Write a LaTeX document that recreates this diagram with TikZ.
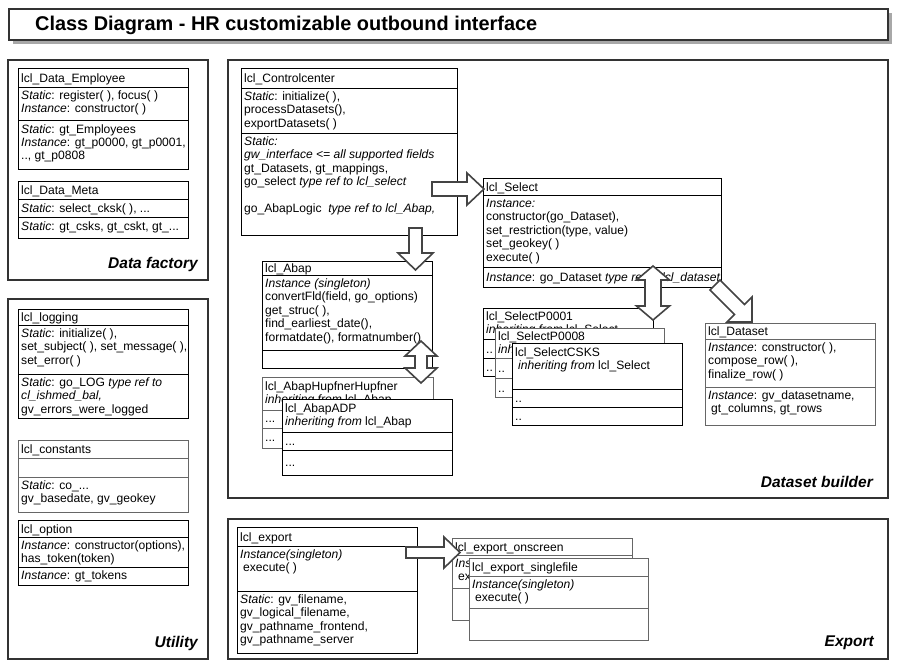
\documentclass[tikz,border=0pt]{standalone}
\usepackage{fontspec}
\setmainfont{Liberation Sans}
\definecolor{panelc}{HTML}{333333}
\definecolor{arrowc}{HTML}{444444}
\definecolor{greyb}{HTML}{666666}
\definecolor{shadowc}{HTML}{A8A8A8}
\newcommand\cf{\fontsize{12.1}{13.4}\selectfont}
\tikzset{
  panel/.style={draw=panelc, line width=2pt},
  cls/.style={draw=black, line width=0.9pt, fill=white},
  clsg/.style={draw=greyb, line width=1pt, fill=white},
  dv/.style={draw=black, line width=0.9pt},
  dvg/.style={draw=greyb, line width=1pt},
  txt/.style={anchor=north west, inner sep=0pt, align=left, font=\cf},
  lab/.style={anchor=base east, inner sep=0pt, font=\fontsize{15.5}{16}\selectfont\bfseries\itshape},
  barrow/.style={draw=arrowc, line width=1.6pt, fill=white, line join=miter},
}
% single block arrow: x y length rotation headlength headhalf shafthalf
\newcommand\sarrow[7]{%
  \draw[barrow, shift={(#1,#2)}, rotate=#4]
    (0,-#7) -- ({#3-#5},-#7) -- ({#3-#5},-#6) -- (#3,0) -- ({#3-#5},#6) -- ({#3-#5},#7) -- (0,#7) -- cycle;}
% double block arrow
\newcommand\darrow[7]{%
  \draw[barrow, shift={(#1,#2)}, rotate=#4]
    (0,0) -- (#5,-#6) -- (#5,-#7) -- ({#3-#5},-#7) -- ({#3-#5},-#6) -- (#3,0)
    -- ({#3-#5},#6) -- ({#3-#5},#7) -- (#5,#7) -- (#5,#6) -- cycle;}
\begin{document}
\begin{tikzpicture}[x=1pt,y=-1pt]
\useasboundingbox (0,0) rectangle (901,669);
\fill[white] (0,0) rectangle (901,669);

% ---------- title ----------
\fill[shadowc] (13,13) rectangle (892,44);
\draw[panel, fill=white] (9,9) rectangle (888,40);
\node[anchor=base west, inner sep=0pt, font=\fontsize{19.9}{21}\selectfont\bfseries] (title) at (35,31) {Class Diagram - HR customizable outbound interface};

% ---------- panels ----------
\draw[panel] (8,60) rectangle (208,280);
\node[lab] (lblDF) at (198,268.5) {Data factory};
\draw[panel] (228,60) rectangle (888,498);
\node[lab] (lblDB) at (873,487.5) {Dataset builder};
\draw[panel] (8,299) rectangle (208,659);
\node[lab] (lblUT) at (198,647.5) {Utility};
\draw[panel] (228,519) rectangle (888,659);
\node[lab] (lblEX) at (874,646.5) {Export};

% ---------- Data factory ----------
\draw[cls] (18.5,68.5) rectangle (188.5,169.5);
\draw[dv] (18.5,87) -- (188.5,87);
\draw[dv] (18.5,120.5) -- (188.5,120.5);
\node[txt] (empT) at (21,72.5) {\strut lcl\_Data\_Employee};
\node[txt] (empA) at (21,90) {\strut\textit{Static}: register( ), focus( )\\\textit{Instance}: constructor( )};
\node[txt] (empB) at (21,123.5) {\strut\textit{Static}: gt\_Employees\\\textit{Instance}: gt\_p0000, gt\_p0001,\\.., gt\_p0808};

\draw[cls] (18.5,181) rectangle (188.5,238);
\draw[dv] (18.5,199) -- (188.5,199);
\draw[dv] (18.5,217) -- (188.5,217);
\node[txt] (metaT) at (21,185) {\strut lcl\_Data\_Meta};
\node[txt] (metaA) at (21,203) {\strut\textit{Static}: select\_cksk( ), ...};
\node[txt] (metaB) at (21,221) {\strut\textit{Static}: gt\_csks, gt\_cskt, gt\_...};

% ---------- Dataset builder ----------
\draw[cls] (241.5,68) rectangle (457.5,235);
\draw[dv] (241.5,88) -- (457.5,88);
\draw[dv] (241.5,133) -- (457.5,133);
\node[txt] (ccT) at (244,73) {\strut lcl\_Controlcenter};
\node[txt] (ccA) at (244,91) {\strut\textit{Static}: initialize( ),\\processDatasets(),\\exportDatasets( )};
\node[txt] (ccB) at (244,136) {\strut\textit{Static:}\\\textit{gw\_interface {<}= all supported fields}\\gt\_Datasets, gt\_mappings,\\go\_select \textit{type ref to lcl\_select}\\\strut\\go\_AbapLogic~~\textit{type ref to lcl\_Abap,}};

\draw[cls] (483,178) rectangle (721,287);
\draw[dv] (483,195) -- (721,195);
\draw[dv] (483,267) -- (721,267);
\node[txt] (selT) at (486,181.5) {\strut lcl\_Select};
\node[txt] (selA) at (486,198) {\strut\textit{Instance:}\\constructor(go\_Dataset),\\set\_restriction(type, value)\\set\_geokey( )\\execute( )};
\node[txt] (selB) at (486,271.5) {\strut\textit{Instance}: go\_Dataset \textit{type ref to lcl\_dataset,}};

\draw[cls] (262,261) rectangle (432,368);
\draw[dv] (262,275) -- (432,275);
\draw[dv] (262,350) -- (432,350);
\node[txt] (abT) at (265,263) {\strut lcl\_Abap};
\node[txt] (abA) at (265,278) {\strut\textit{Instance (singleton)}\\convertFld(field, go\_options)\\get\_struc( ),\\find\_earliest\_date(),\\formatdate(), formatnumber()};

\draw[clsg] (262,377) rectangle (433,448);
\draw[dvg] (262,410) -- (433,410);
\draw[dvg] (262,428) -- (433,428);
\node[txt] (huT) at (265,380.5) {\strut lcl\_AbapHupfnerHupfner\\\textit{inheriting from} lcl\_Abap};
\node[txt] (huA) at (265,413) {\strut ...};
\node[txt] (huB) at (265,432) {\strut ...};

\draw[cls] (282,399) rectangle (452,475);
\draw[dv] (282,432) -- (452,432);
\draw[dv] (282,450) -- (452,450);
\node[txt] (adT) at (285,403) {\strut lcl\_AbapADP\\\textit{inheriting from} lcl\_Abap};
\node[txt] (adA) at (285,436) {\strut ...};
\node[txt] (adB) at (285,457) {\strut ...};

\draw[cls] (483,308) rectangle (653,376);
\draw[dv] (483,339) -- (653,339);
\draw[dv] (483,358) -- (653,358);
\node[txt] (p1T) at (486,311) {\strut lcl\_SelectP0001\\\textit{inheriting from} lcl\_Select};
\node[txt] (p1A) at (486,343.5) {\strut ..};
\node[txt] (p1B) at (486,362) {\strut ..};

\draw[clsg] (495,328) rectangle (664,397);
\draw[dvg] (495,358) -- (664,358);
\draw[dvg] (495,378) -- (664,378);
\node[txt] (p8T) at (498,331) {\strut lcl\_SelectP0008\\\textit{inheriting from} lcl\_Select};
\node[txt] (p8A) at (498,363) {\strut ..};
\node[txt] (p8B) at (498,382.5) {\strut ..};

\draw[cls] (512,343) rectangle (682,425);
\draw[dv] (512,389) -- (682,389);
\draw[dv] (512,407) -- (682,407);
\node[txt] (ckT) at (515,347) {\strut lcl\_SelectCSKS\\\hspace{3pt}\textit{inheriting from} lcl\_Select};
\node[txt] (ckA) at (515,393) {\strut ..};
\node[txt] (ckB) at (515,411) {\strut ..};

\draw[clsg] (705,323) rectangle (875,425);
\draw[dvg] (705,339) -- (875,339);
\draw[dvg] (705,387) -- (875,387);
\node[txt] (dsT) at (708,326) {\strut lcl\_Dataset};
\node[txt] (dsA) at (708,342) {\strut\textit{Instance}: constructor( ),\\compose\_row( ),\\finalize\_row( )};
\node[txt] (dsB) at (708,390) {\strut\textit{Instance}: gv\_datasetname,\\\hspace{3pt}gt\_columns, gt\_rows};

% ---------- Utility ----------
\draw[cls] (18.5,309) rectangle (188.5,418);
\draw[dv] (18.5,325) -- (188.5,325);
\draw[dv] (18.5,374) -- (188.5,374);
\node[txt] (logT) at (21,312) {\strut lcl\_logging};
\node[txt] (logA) at (21,328) {\strut\textit{Static}: initialize( ),\\set\_subject( ), set\_message( ),\\set\_error( )};
\node[txt] (logB) at (21,377) {\strut\textit{Static}: go\_LOG \textit{type ref to}\\\textit{cl\_ishmed\_bal,}\\gv\_errors\_were\_logged};

\draw[clsg] (18.5,440) rectangle (188.5,512);
\draw[dvg] (18.5,458) -- (188.5,458);
\draw[dvg] (18.5,477) -- (188.5,477);
\node[txt] (conT) at (21,444) {\strut lcl\_constants};
\node[txt] (conB) at (21,480) {\strut\textit{Static}: co\_...\\gv\_basedate, gv\_geokey};

\draw[cls] (18.5,520) rectangle (188.5,585);
\draw[dv] (18.5,537) -- (188.5,537);
\draw[dv] (18.5,567) -- (188.5,567);
\node[txt] (optT) at (21,523.5) {\strut lcl\_option};
\node[txt] (optA) at (21,540) {\strut\textit{Instance}: constructor(options),\\has\_token(token)};
\node[txt] (optB) at (21,570) {\strut\textit{Instance}: gt\_tokens};

% ---------- Export ----------
\draw[cls] (237,527) rectangle (417,653);
\draw[dv] (237,546) -- (417,546);
\draw[dv] (237,591) -- (417,591);
\node[txt] (exT) at (240,531.5) {\strut lcl\_export};
\node[txt] (exA) at (240,549) {\strut\textit{Instance(singleton)}\\\hspace{3pt}execute( )};
\node[txt] (exB) at (240,594) {\strut\textit{Static}: gv\_filename,\\gv\_logical\_filename,\\gv\_pathname\_frontend,\\gv\_pathname\_server};

\draw[clsg] (452,538) rectangle (632,620);
\draw[dvg] (452,555) -- (632,555);
\draw[dvg] (452,588) -- (632,588);
\node[txt] (osT) at (455,541.5) {\strut lcl\_export\_onscreen};
\node[txt] (osA) at (455,558) {\strut\textit{Instance(singleton)}\\\hspace{3pt}execute( )};

\draw[clsg] (469,558) rectangle (648,640);
\draw[dvg] (469,576) -- (648,576);
\draw[dvg] (469,608) -- (648,608);
\node[txt] (sfT) at (472,562) {\strut lcl\_export\_singlefile};
\node[txt] (sfA) at (472,579) {\strut\textit{Instance(singleton)}\\\hspace{3pt}execute( )};

% ---------- block arrows ----------
\sarrow{432}{189}{52}{0}{17}{16}{7}          % Controlcenter -> Select
\sarrow{415.5}{228}{42}{-90}{17}{17.5}{6.5}  % Controlcenter -> Abap
\sarrow{715}{285}{52.3}{-45}{17.7}{17.7}{7}  % Select -> Dataset
\sarrow{406}{552.5}{54}{0}{16}{15.5}{5.5}    % export -> onscreen
\darrow{653}{266}{54}{-90}{14}{16.5}{8}      % Select <-> P0001
\darrow{421}{341}{42}{-90}{15}{16}{6}        % Abap <-> Hupfner
\end{tikzpicture}
\end{document}
